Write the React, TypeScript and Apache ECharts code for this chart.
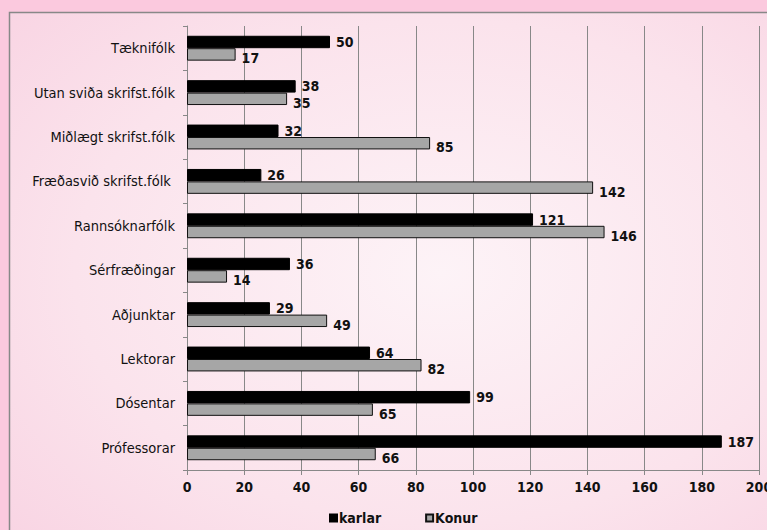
import React, { useEffect, useRef } from "react";
import * as echarts from "echarts";

const categories = [
  "Tæknifólk",
  "Utan sviða skrifst.fólk",
  "Miðlægt skrifst.fólk",
  "Fræðasvið skrifst.fólk ",
  "Rannsóknarfólk",
  "Sérfræðingar",
  "Aðjunktar",
  "Lektorar",
  "Dósentar",
  "Prófessorar",
];
const karlar = [50, 38, 32, 26, 121, 36, 29, 64, 99, 187];
const konur = [17, 35, 85, 142, 146, 14, 49, 82, 65, 66];
const seriesNames = ["karlar", "Konur"];

const FONT = "'DejaVu Sans Condensed', 'Liberation Sans Narrow', sans-serif";

export default function App() {
  const ref = useRef<HTMLDivElement>(null);
  useEffect(() => {
    if (!ref.current) return;
    const chart = echarts.init(ref.current, null, { renderer: "svg" });
    const labelStyle = {
      show: true,
      position: "right" as const,
      distance: 6,
      color: "#111",
      fontFamily: FONT,
      fontSize: 14,
      fontWeight: "bold" as const,
    };
    chart.setOption({
      animation: false,
      backgroundColor: "#fbc9de",
      graphic: [
        {
          type: "rect",
          z: -10,
          shape: { x: 9.5, y: 12.5, width: 770, height: 530 },
          style: {
            fill: {
              type: "radial",
              x: 0.56,
              y: 0.49,
              r: 0.95,
              colorStops: [
                { offset: 0, color: "#fdf3f7" },
                { offset: 0.5, color: "#fbe3ec" },
                { offset: 1, color: "#f7cadd" },
              ],
            },
            stroke: "#888",
            lineWidth: 1.5,
          },
          silent: true,
        },
      ],
      grid: {
        left: 187,
        right: 8,
        top: 26,
        bottom: 60,
        containLabel: false,
        outerBoundsMode: "none",
      },
      legend: {
        bottom: 0,
        left: 324,
        itemWidth: 7,
        itemHeight: 7,
        itemGap: 44,
        icon: "rect",
        textStyle: { fontFamily: FONT, fontSize: 14, fontWeight: "bold", color: "#111", padding: [0, 0, 0, -3] },
        data: seriesNames,
      },
      xAxis: {
        type: "value",
        min: 0,
        max: 200,
        interval: 20,
        axisLine: { show: true, lineStyle: { color: "#888" } },
        axisTick: { show: true, length: 5, lineStyle: { color: "#888" } },
        splitLine: { show: true, lineStyle: { color: "#888", width: 1 } },
        axisLabel: { color: "#111", fontFamily: FONT, fontSize: 14, fontWeight: "bold", margin: 10 },
      },
      yAxis: {
        type: "category",
        inverse: true,
        data: categories,
        axisLine: { show: true, lineStyle: { color: "#888" } },
        axisTick: { show: true, length: 4, lineStyle: { color: "#888" } },
        axisLabel: { color: "#111", fontFamily: FONT, fontSize: 14.5, margin: 12 },
      },
      series: [
        {
          name: seriesNames[0],
          type: "bar",
          data: karlar,
          barGap: "0%",
          barCategoryGap: "44%",
          itemStyle: { color: "#000", borderColor: "#000", borderWidth: 1 },
          label: labelStyle,
        },
        {
          name: seriesNames[1],
          type: "bar",
          data: konur,
          itemStyle: { color: "#a6a6a6", borderColor: "#111", borderWidth: 1 },
          label: { ...labelStyle, offset: [0, 4] },
        },
      ],
    });
    return () => chart.dispose();
  }, []);
  return (
    <div
      ref={ref}
      style={{ position: "fixed", left: 0, top: 0, width: 767, height: 530 }}
    />
  );
}
